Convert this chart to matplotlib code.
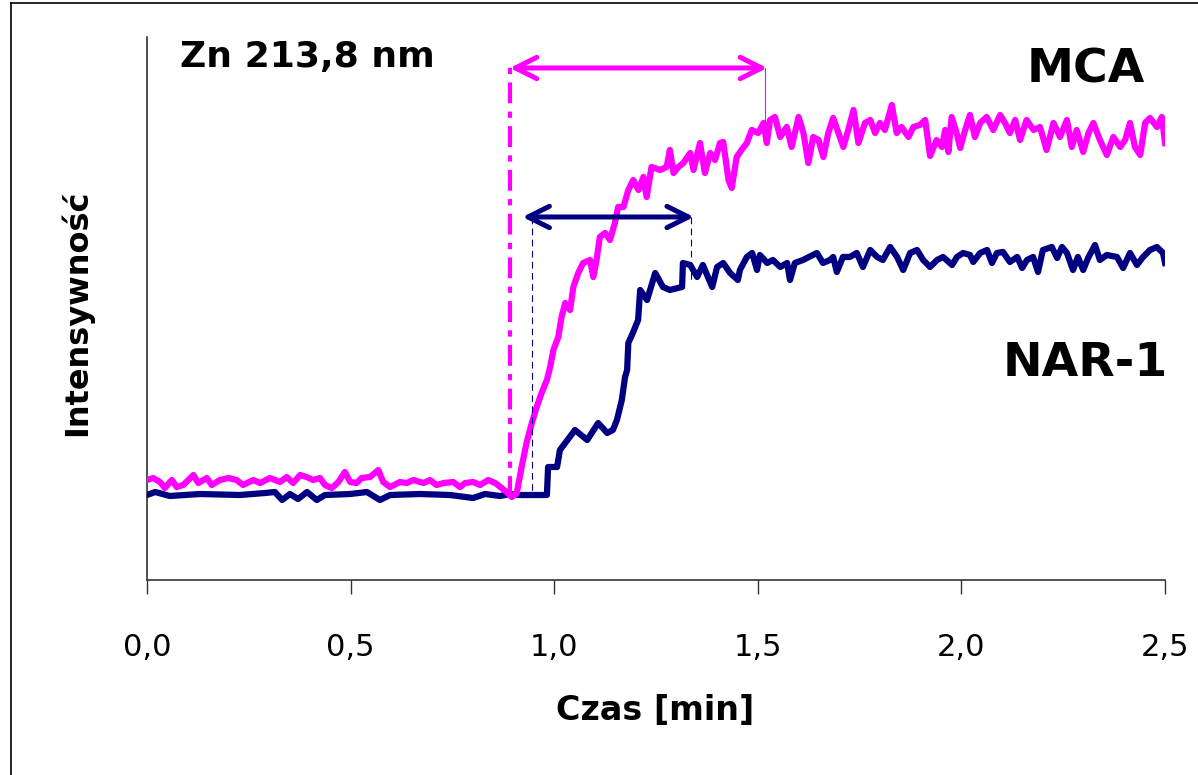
import matplotlib.pyplot as plt
from matplotlib.lines import Line2D

# Zn 213,8 nm signal, time in min, intensity in arbitrary units
nar_t = [0.000, 0.020, 0.056, 0.130, 0.228, 0.290, 0.314, 0.332, 0.351, 0.371,
         0.393, 0.417, 0.437, 0.499, 0.540, 0.572, 0.597, 0.670, 0.744, 0.801,
         0.830, 0.867, 0.891, 0.916, 0.982, 0.985, 1.007, 1.014, 1.027, 1.051,
         1.081, 1.108, 1.130, 1.144, 1.154, 1.166, 1.174, 1.179, 1.182, 1.193,
         1.206, 1.211, 1.228, 1.248, 1.267, 1.284, 1.314, 1.316, 1.334, 1.351,
         1.365, 1.388, 1.400, 1.415, 1.432, 1.451, 1.456, 1.473, 1.486, 1.498,
         1.505, 1.523, 1.537, 1.555, 1.572, 1.579, 1.591, 1.611, 1.645, 1.660,
         1.677, 1.685, 1.694, 1.709, 1.726, 1.743, 1.758, 1.776, 1.793, 1.807,
         1.825, 1.842, 1.857, 1.874, 1.891, 1.906, 1.923, 1.940, 1.955, 1.977,
         1.989, 2.004, 2.021, 2.029, 2.046, 2.063, 2.075, 2.087, 2.102, 2.119,
         2.137, 2.149, 2.161, 2.176, 2.188, 2.200, 2.222, 2.235, 2.247, 2.259,
         2.274, 2.286, 2.299, 2.311, 2.328, 2.340, 2.357, 2.382, 2.397, 2.414,
         2.431, 2.446, 2.463, 2.480, 2.495, 2.500]
nar_i = [85, 88, 84, 86, 85, 87, 88, 80, 86, 81,
         88, 80, 85, 86, 88, 80, 85, 86, 85, 82,
         86, 84, 86, 85, 85, 113, 113, 130, 137, 150,
         140, 157, 147, 150, 160, 180, 203, 210, 237, 247,
         260, 290, 280, 307, 293, 290, 293, 317, 315, 303,
         315, 293, 313, 317, 307, 300, 310, 323, 327, 310,
         325, 317, 320, 313, 317, 300, 317, 320, 327, 317,
         320, 323, 308, 323, 323, 327, 313, 330, 323, 320,
         333, 323, 310, 327, 330, 320, 313, 320, 323, 315,
         323, 327, 325, 318, 327, 330, 317, 327, 328, 318,
         323, 312, 320, 323, 308, 330, 333, 322, 333, 327,
         310, 323, 310, 322, 335, 320, 325, 323, 312, 327,
         315, 323, 330, 333, 327, 317]

mca_t = [0.000, 0.015, 0.032, 0.044, 0.061, 0.073, 0.089, 0.114, 0.126, 0.147,
         0.159, 0.179, 0.200, 0.220, 0.236, 0.261, 0.278, 0.302, 0.327, 0.343,
         0.359, 0.376, 0.392, 0.408, 0.425, 0.437, 0.454, 0.470, 0.486, 0.499,
         0.515, 0.527, 0.548, 0.568, 0.580, 0.597, 0.621, 0.638, 0.654, 0.679,
         0.695, 0.711, 0.728, 0.752, 0.769, 0.781, 0.801, 0.818, 0.838, 0.855,
         0.871, 0.883, 0.896, 0.908, 0.920, 0.932, 0.945, 0.957, 0.969, 0.982,
         0.990, 0.998, 1.010, 1.018, 1.027, 1.039, 1.047, 1.059, 1.071, 1.088,
         1.096, 1.104, 1.112, 1.125, 1.137, 1.149, 1.157, 1.170, 1.182, 1.194,
         1.207, 1.219, 1.227, 1.239, 1.260, 1.276, 1.284, 1.293, 1.305, 1.317,
         1.334, 1.342, 1.358, 1.370, 1.383, 1.395, 1.407, 1.415, 1.428, 1.436,
         1.448, 1.460, 1.473, 1.485, 1.501, 1.514, 1.522, 1.530, 1.542, 1.555,
         1.571, 1.583, 1.600, 1.612, 1.624, 1.636, 1.649, 1.661, 1.673, 1.685,
         1.698, 1.710, 1.722, 1.735, 1.747, 1.763, 1.776, 1.788, 1.800, 1.812,
         1.829, 1.841, 1.853, 1.870, 1.882, 1.898, 1.911, 1.923, 1.939, 1.952,
         1.960, 1.968, 1.976, 1.988, 1.997, 2.009, 2.021, 2.033, 2.046, 2.062,
         2.078, 2.095, 2.107, 2.119, 2.132, 2.144, 2.160, 2.177, 2.193, 2.209,
         2.226, 2.242, 2.259, 2.271, 2.283, 2.299, 2.312, 2.324, 2.340, 2.357,
         2.373, 2.390, 2.402, 2.414, 2.426, 2.439, 2.451, 2.463, 2.480, 2.492,
         2.500]
mca_i = [100, 102, 98, 92, 100, 93, 95, 105, 97, 102,
         95, 100, 102, 100, 95, 100, 97, 102, 98, 103,
         97, 105, 103, 100, 102, 95, 92, 98, 108, 98,
         97, 102, 103, 110, 98, 93, 98, 97, 100, 97,
         100, 95, 97, 98, 93, 97, 98, 95, 100, 97,
         92, 88, 83, 87, 113, 137, 157, 173, 187, 200,
         213, 230, 243, 263, 277, 270, 293, 307, 317, 320,
         303, 320, 343, 347, 340, 357, 373, 373, 390, 400,
         390, 403, 383, 413, 410, 413, 430, 407, 413, 417,
         427, 410, 437, 407, 427, 420, 437, 438, 400, 392,
         423, 430, 437, 450, 447, 457, 437, 460, 463, 443,
         453, 433, 463, 447, 417, 443, 440, 423, 447, 462,
         447, 433, 450, 470, 437, 457, 460, 447, 457, 450,
         475, 447, 453, 443, 453, 455, 460, 424, 440, 433,
         450, 428, 463, 447, 432, 450, 465, 443, 457, 463,
         450, 465, 457, 447, 460, 440, 460, 450, 453, 430,
         457, 443, 460, 433, 450, 428, 447, 457, 440, 425,
         443, 433, 440, 457, 433, 425, 457, 462, 453, 463,
         437]

# markers of the response times
mca_start, mca_end = 0.891, 1.523
nar_start, nar_end = 0.945, 1.336

mca_col = '#FF00FF'
nar_col = '#000080'

fig = plt.figure(figsize=(11.98, 7.75), dpi=100)
ax = fig.add_axes([0.1227, 0.2516, 0.8498, 0.7007])

ax.plot(nar_t, nar_i, color=nar_col, lw=4.5, solid_joinstyle='round', zorder=3)
ax.plot(mca_t, mca_i, color=mca_col, lw=4.5, solid_joinstyle='round', zorder=4)

# vertical marks
ax.plot([mca_start, mca_start], [83, 518], color=mca_col, lw=3,
        linestyle=(0, (5, 2, 1.5, 2)), zorder=5)
ax.plot([1.518, 1.518], [512, 460], color=mca_col, lw=0.8, zorder=5)
ax.plot([nar_start, nar_start], [363, 83], color=nar_col, lw=0.8,
        linestyle=(0, (6, 4)), zorder=5)
ax.plot([nar_end, nar_end], [363, 300], color=nar_col, lw=0.8,
        linestyle=(0, (6, 4)), zorder=5)

# double arrows
ax.annotate('', xy=(mca_end, 512), xytext=(mca_start, 512),
            arrowprops=dict(arrowstyle='<->,head_length=0.7,head_width=0.35',
                            mutation_scale=22, lw=3.6, color=mca_col,
                            shrinkA=0, shrinkB=0), zorder=6)
ax.annotate('', xy=(1.343, 363), xytext=(0.922, 363),
            arrowprops=dict(arrowstyle='<->,head_length=0.7,head_width=0.35',
                            mutation_scale=22, lw=3.6, color=nar_col,
                            shrinkA=0, shrinkB=0), zorder=6)

ax.set_xlim(0, 2.5)
ax.set_ylim(0, 543)
ax.set_xticks([0, 0.5, 1.0, 1.5, 2.0, 2.5])
ax.set_xticklabels(['0,0', '0,5', '1,0', '1,5', '2,0', '2,5'], fontsize=22)
ax.set_yticks([])
ax.tick_params(axis='x', length=10, width=1, color='#333333', pad=28)
for s in ['top', 'right']:
    ax.spines[s].set_visible(False)
for s in ['left', 'bottom']:
    ax.spines[s].set_color('#333333')
    ax.spines[s].set_linewidth(1.2)

fig.text(0.5467, 0.071, 'Czas [min]', fontsize=24, fontweight='bold',
         ha='center', va='baseline')
fig.text(0.064, 0.596, 'Intensywność', fontsize=23, fontweight='bold',
         rotation=90, ha='center', va='center')
fig.text(0.150, 0.9135, 'Zn 213,8 nm', fontsize=26, fontweight='bold',
         ha='left', va='baseline')
fig.text(0.9558, 0.893, 'MCA', fontsize=34, fontweight='bold',
         ha='right', va='baseline')
fig.text(0.975, 0.515, 'NAR-1', fontsize=34, fontweight='bold',
         ha='right', va='baseline')

# outer frame (only top and left edge visible)
fig.add_artist(Line2D([0.0092, 0.0092], [0, 0.9961], color='black', lw=1.2))
fig.add_artist(Line2D([0.0092, 1], [0.9961, 0.9961], color='black', lw=1.2))

fig.savefig('out.png', dpi=100)
